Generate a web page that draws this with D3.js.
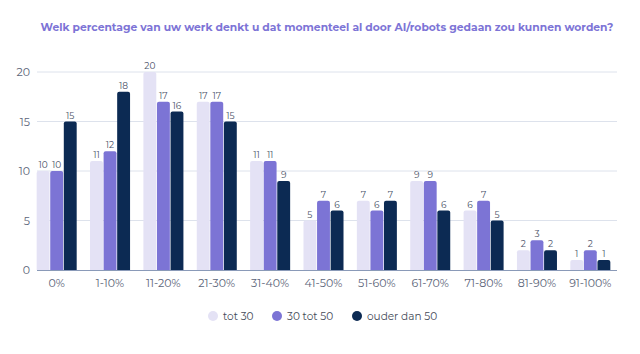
<!DOCTYPE html>
<html>
<head>
<meta charset="utf-8">
<script src="https://cdn.jsdelivr.net/npm/d3@7"></script>
<style>
  body { margin: 0; background: #fff; }
  text { font-family: "Montserrat", "Lato", "Open Sans", sans-serif; }
</style>
</head>
<body>
<div id="chart"></div>
<script>
const categories = ["0%", "1-10%", "11-20%", "21-30%", "31-40%", "41-50%", "51-60%", "61-70%", "71-80%", "81-90%", "91-100%"];
const seriesNames = ["tot 30", "30 tot 50", "ouder dan 50"];
const tot30 = [10, 11, 20, 17, 11, 5, 7, 9, 6, 2, 1];
const tot50 = [10, 12, 17, 17, 11, 7, 6, 9, 7, 3, 2];
const ouder50 = [15, 18, 16, 15, 9, 6, 7, 6, 5, 2, 1];
const yTicks = [0, 5, 10, 15, 20];
const title = "Welk percentage van uw werk denkt u dat momenteel al door AI/robots gedaan zou kunnen worden?";

const width = 640;
const height = 354;
const colors = ["#e4e2f5", "#7c74d5", "#0c2a53"];
const series = [tot30, tot50, ouder50];

const svg = d3
  .select("#chart")
  .append("svg")
  .attr("width", width)
  .attr("height", height);

const x = d3.scaleBand().domain(categories).range([30, 617]).paddingInner(0).paddingOuter(0);
const groupW = x.bandwidth() * 0.75;
const x1 = d3.scaleBand().domain(d3.range(3)).range([0, groupW]).paddingInner(0.05);
const y = d3.scaleLinear().domain([0, 20]).range([270, 72]);

// gridlines
svg
  .append("g")
  .selectAll("line")
  .data(yTicks.slice(1))
  .enter()
  .append("line")
  .attr("x1", 37)
  .attr("x2", 617)
  .attr("y1", (d) => y(d))
  .attr("y2", (d) => y(d))
  .style("stroke", "#dde2ec")
  .style("stroke-width", 1);

// y axis labels
const yaxis = d3.axisLeft(y).tickValues(yTicks).tickSize(0).tickPadding(0);
const yg = svg.append("g").attr("transform", "translate(30,0)").call(yaxis);
yg.select(".domain").remove();
yg.selectAll("text")
  .style("font-size", "11px")
  .style("fill", "#5b6478")
  .style("font-family", "Montserrat, Lato, 'Open Sans', sans-serif");

// bars
function topRounded(x0, y0, w, h, r) {
  r = Math.min(r, h);
  return `M${x0},${y0 + h} V${y0 + r} Q${x0},${y0} ${x0 + r},${y0} H${x0 + w - r} Q${x0 + w},${y0} ${x0 + w},${y0 + r} V${y0 + h} Z`;
}

const groups = svg
  .selectAll(".grp")
  .data(categories)
  .enter()
  .append("g")
  .attr("class", "grp")
  .attr("transform", (d) => `translate(${x(d) + (x.bandwidth() - groupW) / 2},0)`);

series.forEach((vals, s) => {
  groups
    .append("path")
    .attr("d", (d, i) => topRounded(x1(s), y(vals[i]), x1.bandwidth(), y(0) - y(vals[i]), 2))
    .style("fill", colors[s]);
  groups
    .append("text")
    .attr("x", x1(s) + x1.bandwidth() / 2)
    .attr("y", (d, i) => y(vals[i]) - 3)
    .attr("text-anchor", "middle")
    .style("font-size", "9px")
    .style("fill", "#4a5268")
    .text((d, i) => vals[i]);
});

// x axis
const xaxis = d3.axisBottom(x).tickSize(0).tickPadding(9);
const xg = svg.append("g").attr("transform", "translate(0,270)").call(xaxis);
xg.select(".domain").attr("d", "M37,0.5H617").style("stroke", "#8a9ab8");
xg.selectAll("text")
  .style("font-size", "11px")
  .style("fill", "#5b6478")
  .style("font-family", "Montserrat, Lato, 'Open Sans', sans-serif");

// title, sized to span roughly x 40..613
const titleText = svg
  .append("text")
  .attr("x", 327)
  .attr("y", 31)
  .attr("text-anchor", "middle")
  .style("font-size", "12.5px")
  .style("font-weight", "bold")
  .style("fill", "#7d74d6")
  .text(title);
const tw = titleText.node().getComputedTextLength();
titleText.style("font-size", (12.5 * 573) / tw + "px");

// legend
const legendX = [213, 277, 357];
const legend = svg
  .selectAll(".legend")
  .data(seriesNames)
  .enter()
  .append("g")
  .attr("class", "legend");
legend
  .append("circle")
  .attr("cx", (d, i) => legendX[i])
  .attr("cy", 316)
  .attr("r", 5)
  .style("fill", (d, i) => colors[i]);
legend
  .append("text")
  .attr("x", (d, i) => legendX[i] + 10)
  .attr("y", 320)
  .style("font-size", "10.5px")
  .style("fill", "#444a58")
  .text((d) => d);
</script>
</body>
</html>
